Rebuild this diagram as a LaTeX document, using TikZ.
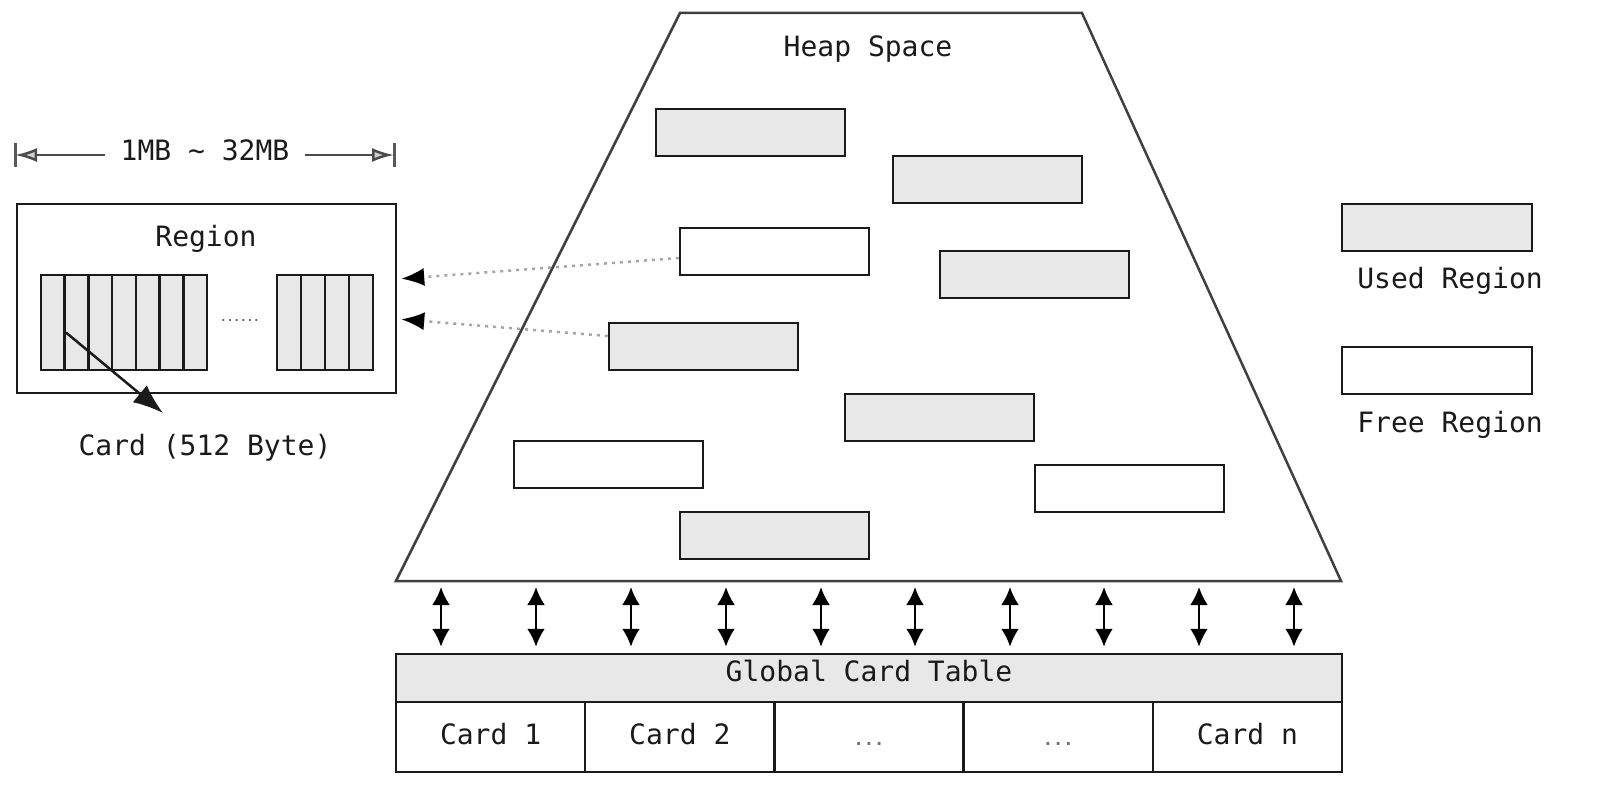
\documentclass[tikz,border=0pt]{standalone}
\usepackage{fontspec}
\setmonofont{DejaVu Sans Mono}
\usetikzlibrary{arrows.meta}
\definecolor{usedgray}{HTML}{E8E8E8}
\definecolor{inkgray}{HTML}{1A1A1A}
\begin{document}
\begin{tikzpicture}[x=1pt,y=-1pt,
  font=\ttfamily\fontsize{28}{34}\selectfont,
  txt/.style={text=inkgray, inner sep=0pt, anchor=base},
  box/.style={draw=inkgray, line width=2.5pt, inner sep=0pt,
              minimum width=189pt, minimum height=47pt},
  used/.style={box, fill=usedgray},
  free/.style={box, fill=white},
  cell/.style={draw=inkgray, line width=2.5pt, fill=usedgray, inner sep=0pt,
               minimum height=95pt},
  heapline/.style={draw=black!75, line width=2.5pt, line join=miter},
  dimline/.style={line width=2.5pt, black!70,
                  -{Latex[length=22pt, width=14pt, open, fill=gray!35]}},
  refline/.style={line width=2.5pt, gray!70, dash pattern=on 3pt off 5pt,
                  -{Latex[length=23pt, width=18pt, color=black, fill=black]}},
  dbl/.style={line width=2.5pt, black,
              {Latex[length=18pt, width=18pt]}-{Latex[length=18pt, width=18pt]}},
  tablecell/.style={draw=inkgray, line width=2.5pt, inner sep=0pt,
                    minimum width=189.2pt, minimum height=70pt,
                    text height=20pt, text depth=6pt, text=inkgray},
]
\useasboundingbox (0,0) rectangle (1603,799);

% ---------- heap space ----------
\draw[heapline] (680,13) coordinate (htl) -- (1082,13) coordinate (htr)
  -- (1341,581) coordinate (hbr) -- (396,581) coordinate (hbl) -- cycle;
\node[txt] (heaplbl) at (868,57) {Heap Space};

\node[used] (A) at (750.5,132.5) {};
\node[used] (B) at (987.5,179.5) {};
\node[free] (C) at (774.5,251.5) {};
\node[used] (D) at (1034.5,274.5) {};
\node[used] (E) at (703.5,346.5) {};
\node[used] (F) at (939.5,417.5) {};
\node[free] (G) at (608.5,464.5) {};
\node[free] (H) at (1129.5,488.5) {};
\node[used] (I) at (774.5,535.5) {};

% ---------- legend ----------
\node[used, minimum width=190pt] (legused) at (1437,227.5) {};
\node[txt] (legusedlbl) at (1450,289) {Used Region};
\node[free, minimum width=190pt] (legfree) at (1437,370.5) {};
\node[txt] (legfreelbl) at (1450,432) {Free Region};

% ---------- single region with its cards ----------
\node[txt, inner xsep=16pt] (dim) at (205,161) {1MB \textasciitilde{} 32MB};
\coordinate (dimL) at (15,155);
\coordinate (dimR) at (394,155);
\draw[line width=3pt, gray!70!black] ([yshift=12pt]dimL) -- ([yshift=-12pt]dimL);
\draw[line width=3pt, gray!70!black] ([yshift=12pt]dimR) -- ([yshift=-12pt]dimR);
\draw[dimline] (dim.west |- dimL) -- (dimL);
\draw[dimline] (dim.east |- dimR) -- (dimR);

\node[draw=inkgray, line width=2.5pt, inner sep=0pt,
      minimum width=379pt, minimum height=189pt] (R) at (206.5,298.5) {};
\node[txt] (regionlbl) at (206,247) {Region};

\foreach \i in {0,...,6}
  \node[cell, minimum width=23.71pt] (c\i) at ({41+23.71*(\i+0.5)},322.5) {};
\foreach \i in {0,...,3}
  \node[cell, minimum width=24pt] (d\i) at ({277+24*(\i+0.5)},322.5) {};
\node[font=\ttfamily\bfseries\fontsize{11}{12}\selectfont, text=black!65,
      inner sep=0pt, anchor=base] (gap) at (240,322) {......};

\node[txt] (cardlbl) at (205,455) {Card (512 Byte)};
\coordinate (cardtip) at (163,413);
\draw[line width=2.5pt, inkgray, -{Latex[length=30pt, width=22pt]}]
  ([yshift=-10pt]c0.east) -- (cardtip);

% references from heap regions to the region detail
\draw[refline, shorten >=4pt] ([yshift=-6.5pt]C.west) -- ([yshift=19.5pt]R.east);
\draw[refline, shorten >=4pt] ([yshift=10.5pt]E.west) -- ([yshift=-20.5pt]R.east);

% ---------- global card table ----------
\node[draw=inkgray, line width=2.5pt, fill=usedgray, inner sep=0pt,
      minimum width=946pt, minimum height=48pt,
      text height=20pt, text depth=14pt, text=inkgray] (gct) at (869,678)
      {Global Card Table};

\foreach \lbl [count=\i from 0] in {Card 1,Card 2,{},{},Card n}
  \node[tablecell] (card\i) at ({396+189.2*(\i+0.5)},737) {\lbl};
\node[font=\ttfamily\bfseries\fontsize{17}{20}\selectfont, text=black!55,
      inner sep=0pt, anchor=base] (ell1) at (card2.center |- 0,745) {...};
\node[font=\ttfamily\bfseries\fontsize{17}{20}\selectfont, text=black!55,
      inner sep=0pt, anchor=base] (ell2) at (card3.center |- 0,745) {...};

\foreach \x [count=\i] in {441,536,631,726,821,915,1010,1104,1199,1294} {
  \coordinate (up\i) at (\x,587);
  \draw[dbl] (up\i) -- ([yshift=6pt]up\i |- gct.north);
}
\end{tikzpicture}
\end{document}
